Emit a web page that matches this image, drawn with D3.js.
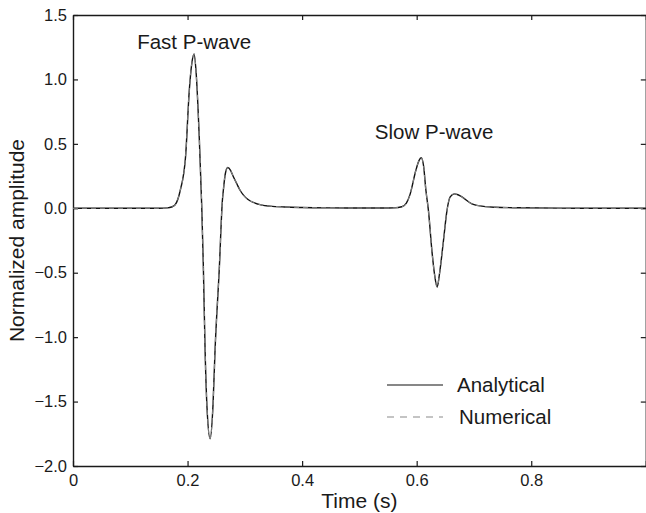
<!DOCTYPE html>
<html>
<head>
<meta charset="utf-8">
<script src="https://cdn.jsdelivr.net/npm/d3@7/dist/d3.min.js"></script>
<style>
  html, body { margin: 0; padding: 0; background: #fff; }
  svg { display: block; }
  text { font-family: "Liberation Sans", Arial, Helvetica, sans-serif; fill: #1a1a1a; }
</style>
</head>
<body>
<svg id="chart" width="646" height="513"></svg>
<script>
// ---- data ----
const timeS = [0, 0.15, 0.165, 0.172, 0.178, 0.1873, 0.1965, 0.2031, 0.2073, 0.2114, 0.2150,
  0.2206, 0.2248, 0.2276, 0.2306, 0.2340, 0.2393, 0.2445, 0.2480, 0.2555, 0.2608, 0.2625,
  0.2660, 0.2702, 0.2750, 0.2800, 0.2860, 0.2917, 0.2980, 0.3050, 0.3150, 0.3300, 0.3440,
  0.37, 0.40, 0.45, 0.50, 0.55, 0.560, 0.5741, 0.5820, 0.5886, 0.5986, 0.6040, 0.6079,
  0.6120, 0.6161, 0.6206, 0.6266, 0.6311, 0.6358, 0.6398, 0.6468, 0.6528, 0.6585, 0.6660,
  0.6720, 0.6790, 0.6964, 0.7197, 0.7371, 0.78, 0.85, 0.90, 1.0];
const analytical = [0, 0, 0.003, 0.01, 0.025, 0.14, 0.40, 0.92, 1.12, 1.197, 1.05,
  0.53, 0.01, -0.46, -1.10, -1.55, -1.788, -1.52, -1.10, -0.46, 0.06, 0.14,
  0.27, 0.316, 0.295, 0.245, 0.19, 0.14, 0.10, 0.07, 0.045, 0.025, 0.017,
  0.01, 0.006, 0.003, 0.002, 0.002, 0.003, 0.012, 0.04, 0.11, 0.295, 0.37, 0.393,
  0.33, 0.14, -0.02, -0.33, -0.51, -0.611, -0.51, -0.25, -0.02, 0.088, 0.112,
  0.105, 0.088, 0.034, 0.013, 0.008, 0.004, 0.001, 0, 0];
const numerical = [0, 0, 0.003, 0.01, 0.025, 0.14, 0.40, 0.92, 1.12, 1.197, 1.05,
  0.53, 0.01, -0.46, -1.10, -1.55, -1.788, -1.52, -1.10, -0.46, 0.06, 0.14,
  0.27, 0.316, 0.295, 0.245, 0.19, 0.14, 0.10, 0.07, 0.045, 0.025, 0.017,
  0.01, 0.006, 0.003, 0.002, 0.002, 0.003, 0.012, 0.04, 0.11, 0.295, 0.37, 0.393,
  0.33, 0.14, -0.02, -0.33, -0.51, -0.611, -0.51, -0.25, -0.02, 0.088, 0.112,
  0.105, 0.088, 0.034, 0.013, 0.008, 0.004, 0.001, 0, 0];
const xTicks = [0, 0.2, 0.4, 0.6, 0.8, 1];
const xTickLabels = ["0", "0.2", "0.4", "0.6", "0.8", ""];
const yTicks = [1.5, 1.0, 0.5, 0.0, -0.5, -1.0, -1.5, -2.0];
const yTickLabels = ["1.5", "1.0", "0.5", "0.0", "\u22120.5", "\u22121.0", "\u22121.5", "\u22122.0"];
const annotations = [
  { text: "Fast P-wave", t: 0.112, v: 1.24 },
  { text: "Slow P-wave", t: 0.527, v: 0.54 }
];
const seriesNames = ["Analytical", "Numerical"];

// ---- layout ----
const svg = d3.select("#chart");
const L = 73, R = 645.8, T = 15, B = 466;
const x = d3.scaleLinear().domain([0, 1]).range([L, R]);
const y = d3.scaleLinear().domain([-2, 1.5]).range([B, T]);

const tickFont = "16.5px", labelFont = "20.5px", titleFont = "21px";

const fmtX = (d) => xTickLabels[xTicks.indexOf(d)];
const fmtY = (d) => yTickLabels[yTicks.indexOf(d)];

const gB = svg.append("g").attr("transform", `translate(0,${B})`)
  .call(d3.axisBottom(x).tickValues(xTicks).tickFormat(fmtX).tickSizeInner(-5).tickSizeOuter(0).tickPadding(8));
const gT = svg.append("g").attr("transform", `translate(0,${T})`)
  .call(d3.axisTop(x).tickValues(xTicks).tickFormat("").tickSizeInner(-5).tickSizeOuter(0));
const gL = svg.append("g").attr("transform", `translate(${L},0)`)
  .call(d3.axisLeft(y).tickValues(yTicks).tickFormat(fmtY).tickSizeInner(-5).tickSizeOuter(0).tickPadding(6));
const gR = svg.append("g").attr("transform", `translate(${R},0)`)
  .call(d3.axisRight(y).tickValues(yTicks).tickFormat("").tickSizeInner(-5).tickSizeOuter(0));

[gB, gT, gL, gR].forEach(g => {
  g.selectAll("path.domain").attr("stroke", "#1a1a1a").attr("stroke-width", 1.4);
  g.selectAll(".tick line").attr("stroke", "#1a1a1a").attr("stroke-width", 1.2);
  g.selectAll(".tick text").style("font-size", tickFont).attr("fill", "#1a1a1a")
    .style("font-family", '"Liberation Sans", Arial, sans-serif');
});

// lines
const ptsA = timeS.map((t, i) => [t, analytical[i]]);
const ptsN = timeS.map((t, i) => [t, numerical[i]]);
const line = d3.line().x(d => x(d[0])).y(d => y(d[1])).curve(d3.curveMonotoneX);

svg.append("path").datum(ptsA).attr("d", line)
  .attr("fill", "none").attr("stroke", "#111").attr("stroke-width", 1.4);
svg.append("path").datum(ptsN).attr("d", line)
  .attr("fill", "none").attr("stroke", "#8a8a8a").attr("stroke-width", 1.0)
  .attr("stroke-dasharray", "5,4");

// annotations
svg.selectAll("text.anno").data(annotations).enter().append("text")
  .attr("class", "anno")
  .attr("x", d => x(d.t)).attr("y", d => y(d.v))
  .style("font-size", labelFont)
  .text(d => d.text);

// legend
const leg = svg.append("g");
const legY = [385, 417];
leg.append("line").attr("x1", 387).attr("x2", 443).attr("y1", legY[0]).attr("y2", legY[0])
  .attr("stroke", "#111").attr("stroke-width", 1.2);
leg.append("line").attr("x1", 387).attr("x2", 443).attr("y1", legY[1]).attr("y2", legY[1])
  .attr("stroke", "#8a8a8a").attr("stroke-width", 1.2).attr("stroke-dasharray", "7,6");
leg.append("text").attr("x", 457).attr("y", legY[0] + 7).style("font-size", labelFont).text(seriesNames[0]);
leg.append("text").attr("x", 459).attr("y", legY[1] + 7).style("font-size", labelFont).text(seriesNames[1]);

// axis titles
svg.append("text").attr("x", (L + R) / 2).attr("y", 508).attr("text-anchor", "middle")
  .style("font-size", titleFont).text("Time (s)");
svg.append("text").attr("transform", `translate(24,${(T + B) / 2}) rotate(-90)`)
  .attr("text-anchor", "middle").style("font-size", titleFont).text("Normalized amplitude");
</script>
</body>
</html>
